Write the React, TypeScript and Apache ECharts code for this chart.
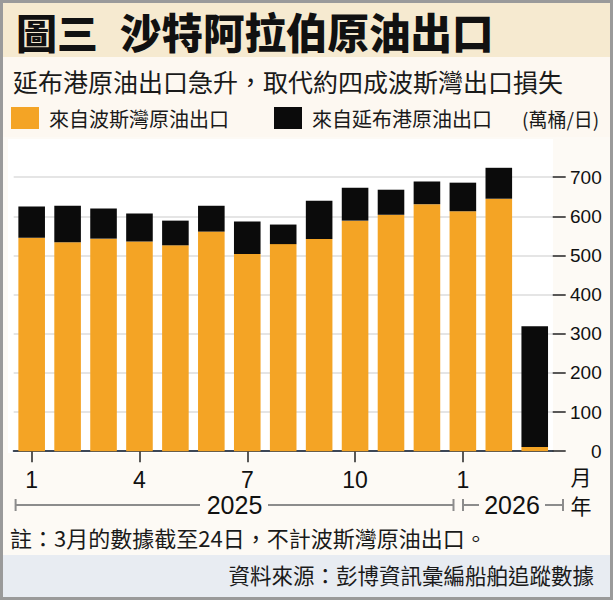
import React, { useEffect, useRef } from "react";
import * as echarts from "echarts";

// Monthly crude exports (10k barrels/day), Jan 2025 – Mar 2026
const months = ["1", "2", "3", "4", "5", "6", "7", "8", "9", "10", "11", "12", "1", "2", "3"];
const gulfExports = [545, 534, 543, 536, 526, 561, 504, 529, 542, 589, 604, 631, 613, 645, 11];
const yanbuExports = [80, 93, 77, 71, 63, 66, 83, 50, 98, 84, 64, 58, 73, 79, 308];
const yTicks = [0, 100, 200, 300, 400, 500, 600, 700];
const labeledMonthIdx = [0, 3, 6, 9, 12];
const years = ["2025", "2026"];

const titleLead = "圖三";
const titleMain = "沙特阿拉伯原油出口";
const subtitle = "延布港原油出口急升，取代約四成波斯灣出口損失";
const seriesNames = ["來自波斯灣原油出口", "來自延布港原油出口"];
const unitText = "(萬桶/日)";
const noteText = "註：3月的數據截至24日，不計波斯灣原油出口。";
const sourceText = "資料來源：彭博資訊彙編船舶追蹤數據";

const CJK = "'Noto Sans CJK TC', 'Noto Sans CJK SC', sans-serif";
const NUM = "'Liberation Sans Narrow', 'Arial Narrow', 'Liberation Sans', Arial, sans-serif";

const ORANGE = "#F4A425";
const BLACK = "#0b0b0b";
const BRACKET = "#8c8c8c";

export default function App() {
  const ref = useRef<HTMLDivElement>(null);

  useEffect(() => {
    if (!ref.current) return;
    const chart = echarts.init(ref.current, null, { renderer: "svg" });

    const showMonth = (i: number) => labeledMonthIdx.includes(i);

    const hLine = (x1: number, x2: number, y: number) => ({
      type: "line",
      shape: { x1, y1: y, x2, y2: y },
      style: { stroke: BRACKET, lineWidth: 2 },
    });
    const cap = (x: number, y: number) => ({
      type: "line",
      shape: { x1: x, y1: y - 6, x2: x, y2: y + 6 },
      style: { stroke: BRACKET, lineWidth: 2 },
    });

    const yearY = 505;

    chart.setOption({
      animation: false,
      backgroundColor: "#fdfaf5",
      grid: { left: 13.7, right: 60.3, top: 140, bottom: 148.8, containLabel: false },
      xAxis: {
        type: "category",
        data: months,
        axisLine: { show: true, lineStyle: { color: "#3d4756", width: 2 } },
        axisTick: {
          show: true,
          alignWithLabel: true,
          interval: (i: number) => showMonth(i),
          length: 11,
          lineStyle: { color: "#222", width: 1.5 },
        },
        axisLabel: {
          interval: (i: number) => showMonth(i),
          fontFamily: NUM,
          fontSize: 23,
          color: "#111",
          margin: 17,
        },
        splitLine: { show: false },
      },
      yAxis: {
        type: "value",
        position: "right",
        min: 0,
        max: 795,
        interval: 100,
        axisLine: { show: false },
        axisTick: {
          show: true,
          length: 13,
          customValues: yTicks,
          lineStyle: { color: "#222", width: 1.5 },
        },
        axisLabel: {
          customValues: yTicks,
          align: "right",
          margin: 49,
          fontFamily: NUM,
          fontSize: 19,
          color: "#111",
        },
        splitLine: { show: true, lineStyle: { color: "#dcdcdc", width: 1.5 } },
      },
      series: [
        {
          name: seriesNames[0],
          type: "bar",
          stack: "total",
          data: gulfExports,
          itemStyle: { color: ORANGE },
          barCategoryGap: "26%",
        },
        {
          name: seriesNames[1],
          type: "bar",
          stack: "total",
          data: yanbuExports,
          itemStyle: { color: BLACK },
          barCategoryGap: "26%",
        },
      ],
      graphic: [
        // header band, plot panel and source band backgrounds
        { type: "rect", shape: { x: 0, y: 0, width: 613, height: 57 }, style: { fill: "#f6ead0" }, z: -10 },
        { type: "rect", shape: { x: 0, y: 57, width: 613, height: 80 }, style: { fill: "#fdf8f1" }, z: -10 },
        { type: "rect", shape: { x: 8, y: 139, width: 545, height: 314 }, style: { fill: "#ffffff" }, z: -10 },
        { type: "rect", shape: { x: 0, y: 555, width: 613, height: 45 }, style: { fill: "#e8ecf2" }, z: -10 },
        // outer frame
        {
          type: "rect",
          shape: { x: 1.5, y: 1.5, width: 610, height: 597 },
          style: { fill: "none", stroke: "#9a9a9a", lineWidth: 3 },
          z: 50,
        },
        // title
        {
          type: "text",
          x: 16,
          y: 31,
          style: { text: titleLead, fontFamily: CJK, fontSize: 41, fontWeight: 900, fill: "#111", verticalAlign: "middle" },
        },
        {
          type: "text",
          x: 120,
          y: 31,
          style: { text: titleMain, fontFamily: CJK, fontSize: 41.5, fontWeight: 900, fill: "#111", verticalAlign: "middle" },
        },
        // subtitle
        {
          type: "text",
          x: 13,
          y: 81,
          style: { text: subtitle, fontFamily: CJK, fontSize: 25, fill: "#1a1a1a", verticalAlign: "middle" },
        },
        // legend
        { type: "rect", shape: { x: 11, y: 107, width: 28, height: 22 }, style: { fill: ORANGE } },
        {
          type: "text",
          x: 49,
          y: 118,
          style: { text: seriesNames[0], fontFamily: CJK, fontSize: 20, fill: "#1a1a1a", verticalAlign: "middle" },
        },
        { type: "rect", shape: { x: 274, y: 107, width: 28, height: 22 }, style: { fill: BLACK } },
        {
          type: "text",
          x: 312,
          y: 118,
          style: { text: seriesNames[1], fontFamily: CJK, fontSize: 20, fill: "#1a1a1a", verticalAlign: "middle" },
        },
        {
          type: "text",
          x: 522,
          y: 118,
          style: { text: unitText, fontFamily: CJK, fontSize: 19, fill: "#1a1a1a", verticalAlign: "middle" },
        },
        // axis unit marks
        {
          type: "text",
          x: 581,
          y: 476,
          style: { text: "月", fontFamily: CJK, fontSize: 21, fill: "#111", align: "center", verticalAlign: "middle" },
        },
        {
          type: "text",
          x: 581,
          y: 505,
          style: { text: "年", fontFamily: CJK, fontSize: 21, fill: "#111", align: "center", verticalAlign: "middle" },
        },
        // year brackets
        cap(15.6, yearY),
        hLine(15.6, 200, yearY),
        {
          type: "text",
          x: 234.5,
          y: yearY,
          style: { text: years[0], fontFamily: NUM, fontSize: 25, fill: "#111", align: "center", verticalAlign: "middle" },
        },
        hLine(268, 453.5, yearY),
        cap(453.5, yearY),
        cap(463, yearY),
        hLine(463, 479, yearY),
        {
          type: "text",
          x: 512,
          y: yearY,
          style: { text: years[1], fontFamily: NUM, fontSize: 25, fill: "#111", align: "center", verticalAlign: "middle" },
        },
        hLine(545, 563, yearY),
        cap(563, yearY),
        // note and source
        {
          type: "text",
          x: 10,
          y: 537,
          style: { text: noteText, fontFamily: CJK, fontSize: 22, fill: "#1a1a1a", verticalAlign: "middle" },
        },
        {
          type: "text",
          x: 594,
          y: 574,
          style: { text: sourceText, fontFamily: CJK, fontSize: 21.5, fill: "#1a1a1a", align: "right", verticalAlign: "middle" },
        },
      ],
    });

    return () => chart.dispose();
  }, []);

  return <div ref={ref} style={{ position: "fixed", left: 0, top: 0, width: 613, height: 600 }} />;
}
